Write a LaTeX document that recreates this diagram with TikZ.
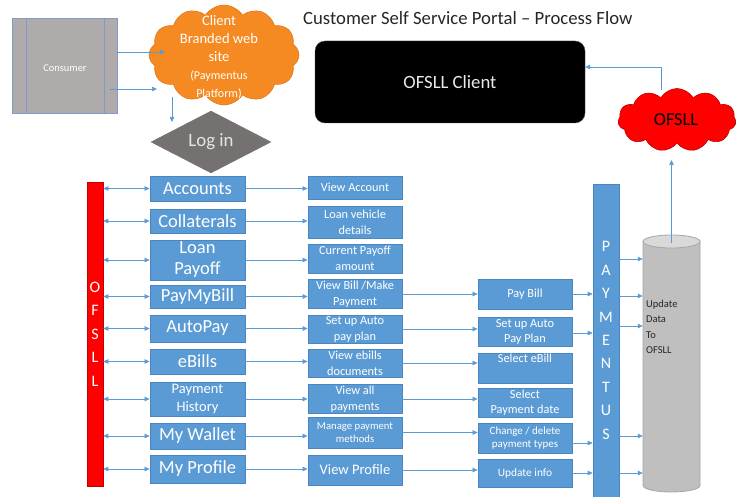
\documentclass[tikz,border=0pt]{standalone}
\usepackage{fontspec}
\setmainfont{Carlito}
\usetikzlibrary{shapes.geometric,shapes.symbols,arrows.meta}
\definecolor{boxblue}{HTML}{5B9BD5}
\definecolor{boxedge}{HTML}{4A86C2}
\definecolor{arrblue}{HTML}{5B9BD5}
\definecolor{cloudorange}{HTML}{F58A22}
\definecolor{cloudedge}{HTML}{E07A18}
\definecolor{redfill}{HTML}{FF0000}
\definecolor{rededge}{HTML}{C00000}
\definecolor{diamgrey}{HTML}{767171}
\definecolor{consgrey}{HTML}{AFABAB}
\definecolor{consedge}{HTML}{7F9CC8}
\definecolor{cylgrey}{HTML}{BFBFBF}
\definecolor{cyltop}{HTML}{D9D9D9}
\definecolor{cyledge}{HTML}{A6A6A6}
\definecolor{titlecol}{HTML}{262626}
\begin{document}
\begin{tikzpicture}[x=1pt,y=-1pt,
  boxbase/.style={rectangle,fill=boxblue,draw=boxedge,line width=0.8pt,text=white,align=center,inner sep=1pt},
  lbox/.style={boxbase,minimum width=95pt,font=\fontsize{18.5}{21}\selectfont},
  mbox/.style={boxbase,minimum width=94pt,font=\fontsize{12.3}{16}\selectfont},
  rbox/.style={boxbase,minimum width=94pt,font=\fontsize{12.3}{15}\selectfont},
  arr/.style={draw=arrblue,line width=0.7pt,-{Triangle[length=5pt,width=4.5pt]}},
  darr/.style={draw=arrblue,line width=0.7pt,{Triangle[length=5pt,width=4.5pt]}-{Triangle[length=5pt,width=4.5pt]}}
]
\useasboundingbox (0,0) rectangle (736,497);

% title
\node[anchor=west,text=titlecol,font=\fontsize{18.7}{20}\selectfont,inner sep=0pt] (title) at (303,18) {Customer Self Service Portal -- Process Flow};

% consumer
\node[rectangle,fill=consgrey,draw=consedge,line width=0.8pt,minimum width=105pt,minimum height=95pt,inner sep=0pt] (cons) at (64.5,65.5) {};
\draw[consedge,line width=0.8pt] (26,18) -- (26,113) (104,18) -- (104,113);
\node[text=white,font=\fontsize{10.4}{12}\selectfont] (constext) at (65,68) {Consumer};

% orange cloud
\node[cloud,cloud puffs=12,cloud puff arc=115,aspect=1.5,fill=cloudorange,draw=cloudedge,line width=0.6pt,minimum width=150pt,minimum height=100pt,inner sep=0pt] (oc) at (224,55) {};
\node[text=white,align=center,font=\fontsize{14.5}{18}\selectfont] (octext) at (219,57) {Client\\Branded web\\site\\\fontsize{12}{14}\selectfont(Paymentus\\\fontsize{12}{14}\selectfont Platform)};

% login diamond
\node[diamond,fill=diamgrey,draw=diamgrey,minimum width=120pt,minimum height=62pt,inner sep=0pt,aspect=1.9,text=white!90!black,font=\fontsize{18.8}{20}\selectfont] (login) at (211,142) {Log in};

% OFSLL client
\node[rectangle,rounded corners=10pt,fill=black,draw=black!70,minimum width=270pt,minimum height=82pt,text=white!92!black,font=\fontsize{18.7}{20}\selectfont] (client) at (450,82) {OFSLL Client};

% red cloud
\node[cloud,cloud puffs=11,cloud puff arc=120,aspect=1.9,fill=redfill,draw=rededge,line width=0.6pt,minimum width=118pt,minimum height=63pt,inner sep=0pt] (rc) at (677,120) {};
\node[text=black,font=\fontsize{18.3}{20}\selectfont] (rctext) at (676,120) {OFSLL};

% OFSLL bar
\node[rectangle,fill=redfill,draw=rededge,line width=0.6pt,minimum width=16pt,minimum height=304pt,inner sep=0pt,text=white,align=center,font=\fontsize{16}{23.5}\selectfont] (ofbar) at (95,334) {O\\F\\S\\L\\L};

% PAYMENTUS bar
\node[rectangle,fill=boxblue,draw=boxedge,line width=0.6pt,minimum width=26pt,minimum height=313pt,inner sep=0pt,text=white,align=center,font=\fontsize{16}{23.4}\selectfont] (pay) at (606,340.5) {P\\A\\Y\\M\\E\\N\\T\\U\\S};

% cylinder
\node[rectangle,minimum width=57pt,minimum height=257pt,inner sep=0pt] (cyl) at (671.5,363.5) {};
\path[fill=cylgrey,draw=cyledge,line width=0.8pt] (643,241.5) -- (643,485.5)
  .. controls (643,489.1) and (655.8,492) .. (671.5,492)
  .. controls (687.2,492) and (700,489.1) .. (700,485.5) -- (700,241.5) -- cycle;
\draw[fill=cyltop,draw=cyledge,line width=0.8pt] (671.5,241.5) ellipse [x radius=28.5, y radius=6.5];
\node[anchor=north west,align=left,text=black!85,font=\fontsize{10.5}{15.5}\selectfont,inner sep=0pt] (cyltext) at (646,300) {Update\\Data\\To\\OFSLL};

% left column
\node[lbox,minimum height=25pt] (acc) at (197.5,188.5) {Accounts};
\node[lbox,minimum height=24pt] (col) at (197.5,221) {Collaterals};
\node[lbox,minimum height=40pt] (loan) at (197.5,260) {Loan\\Payoff};
\node[lbox,minimum height=23pt] (pmb) at (197.5,296.5) {PayMyBill};
\node[lbox,minimum height=27pt] (auto) at (197.5,328.5) {AutoPay};
\node[lbox,minimum height=25pt] (ebl) at (197.5,361.5) {eBills};
\node[lbox,minimum height=34pt,font=\fontsize{14.5}{18}\selectfont] (phist) at (197.5,399) {Payment\\History};
\node[lbox,minimum height=26pt] (wal) at (197.5,436) {My Wallet};
\node[lbox,minimum height=28pt] (prof) at (197.5,469) {My Profile};

% middle column
\node[mbox,minimum height=23pt] (vacc) at (355,187.5) {View Account};
\node[mbox,minimum height=32pt] (lveh) at (355,222) {Loan vehicle\\details};
\node[mbox,minimum height=29pt] (cpay) at (355,258.5) {Current Payoff\\amount};
\node[mbox,minimum height=28pt] (vbill) at (355,294) {View Bill /Make\\Payment};
\node[mbox,minimum height=28pt] (setm) at (355,329) {Set up Auto\\pay plan};
\node[mbox,minimum height=28pt] (vebl) at (355,363) {View ebills\\documents};
\node[mbox,minimum height=26pt] (vall) at (355,399) {View all\\payments};
\node[mbox,minimum height=31pt,font=\fontsize{10.7}{13}\selectfont] (mng) at (355,432.5) {Manage payment\\methods};
\node[mbox,minimum height=30pt,font=\fontsize{14.5}{16}\selectfont] (vprof) at (355,470) {View Profile};

% right column
\node[rbox,minimum height=30pt] (pbill) at (525,294) {Pay Bill};
\node[rbox,minimum height=29pt] (setr) at (525,331.5) {Set up Auto\\Pay Plan};
\node[rbox,minimum height=30pt] (sebl) at (525,368) {Select eBill\\\strut};
\node[rbox,minimum height=29pt] (selpd) at (525,402.5) {Select\\Payment date};
\node[rbox,minimum height=30pt,font=\fontsize{11}{13.5}\selectfont] (chg) at (525,438) {Change / delete\\payment types};
\node[rbox,minimum height=28pt,font=\fontsize{11.4}{13}\selectfont] (upd) at (525,473) {Update info};

% top connectors
\coordinate (c1s) at (117,52); \coordinate (c1e) at (165,52);
\coordinate (c2s) at (110,89); \coordinate (c2e) at (157,89);
\draw[arr] (c1s) -- (c1e);
\draw[arr] (c2s) -- (c2e);
\coordinate (c3s) at (172,97); \coordinate (c3e) at (172,122);
\draw[arr] (c3s) -- (c3e);
\draw[arr] (cyl.north) ++(0,8) coordinate (cyltop) (cyltop) -- (cyltop |- 0,160);
\draw[arr] (661,90) -- (661,67) -- (client.east |- 0,67);

% OFSLL bar double arrows
\foreach \n in {acc,col,loan,pmb,auto,ebl,phist,wal,prof}{
  \draw[darr] (ofbar.east |- \n.west) -- (\n.west);
}
% left -> middle
\draw[arr] (acc.east) -- (acc.east -| vacc.west);
\draw[arr] (col.east) -- (col.east -| lveh.west);
\draw[arr] (loan.east) -- (loan.east -| cpay.west);
\draw[arr] (pmb.east) -- (pmb.east -| vbill.west);
\draw[arr] (auto.east) -- (auto.east -| setm.west);
\draw[arr] (ebl.east) -- (ebl.east -| vebl.west);
\draw[arr] (phist.east) -- (phist.east -| vall.west);
\draw[arr] (wal.east) -- (wal.east -| mng.west);
\draw[arr] (prof.east) -- (prof.east -| vprof.west);
% middle -> right
\draw[arr] (vbill.east) -- (vbill.east -| pbill.west);
\draw[arr] (setm.east) -- (setm.east -| setr.west);
\draw[arr] (vebl.east) -- (vebl.east -| sebl.west);
\draw[arr] (vall.east) -- (vall.east -| selpd.west);
\draw[arr] (mng.east) -- (mng.east -| chg.west);
\draw[arr] (vprof.east) -- (vprof.east -| upd.west);
% right -> PAYMENTUS
\draw[arr] (pbill.east) -- (pbill.east -| pay.west);
\draw[arr] ([yshift=-1.5pt]setr.east) -- ([yshift=-1.5pt]setr.east -| pay.west);
\draw[arr] ([yshift=-5pt]chg.east) -- ([yshift=-5pt]chg.east -| pay.west);
\draw[arr] (upd.east) -- (upd.east -| pay.west);
% PAYMENTUS -> cylinder
\foreach \yy in {259,296,326,436,473}{
  \draw[arr] (pay.east |- 0,\yy) -- (cyl.west |- 0,\yy);
}
\end{tikzpicture}
\end{document}
